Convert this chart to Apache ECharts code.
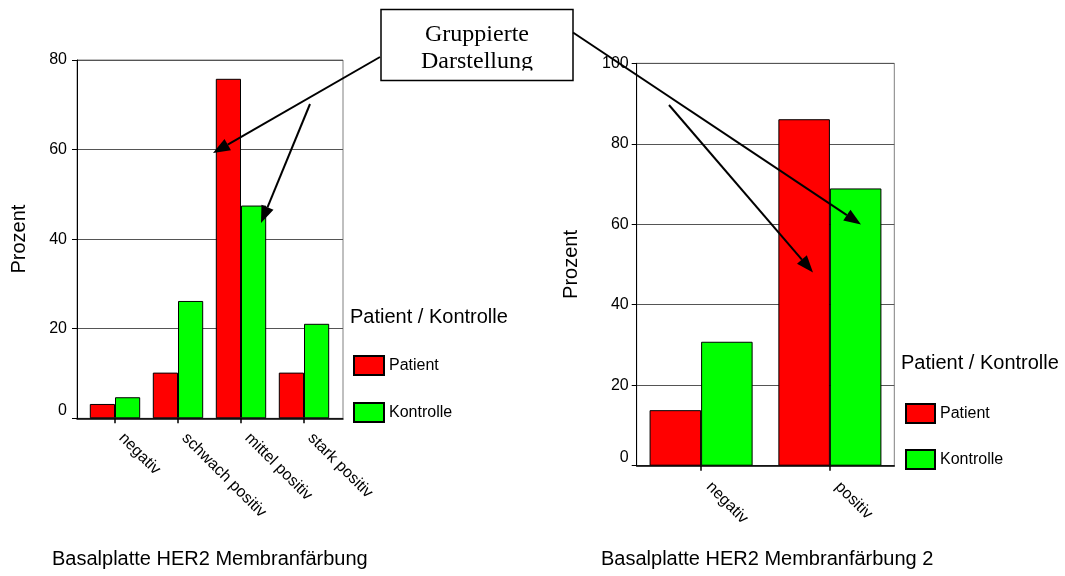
<!DOCTYPE html>
<html>
<head>
<meta charset="utf-8">
<script src="https://cdn.jsdelivr.net/npm/echarts@6/dist/echarts.min.js"></script>
<style>
html,body{margin:0;padding:0;background:#fff;}
#chart{width:1065px;height:576px;}
</style>
</head>
<body>
<div id="chart"></div>
<script>
// ---- data ----
const catsLeft = ['negativ', 'schwach positiv', 'mittel positiv', 'stark positiv'];
const patientLeft = [3.2, 10.2, 75.8, 10.2];
const kontrolleLeft = [4.7, 26.2, 47.5, 21.1];
const catsRight = ['negativ', 'positiv'];
const patientRight = [13.8, 86.1];
const kontrolleRight = [30.8, 68.9];
const seriesNames = ['Patient', 'Kontrolle'];
const legendTitle = 'Patient / Kontrolle';
const titleLeft = 'Basalplatte HER2 Membranfärbung';
const titleRight = 'Basalplatte HER2 Membranfärbung 2';
const yName = 'Prozent';
const calloutLines = ['Gruppierte', 'Darstellung'];

const FONT = 'Liberation Sans, Arial, sans-serif';
const RED = '#ff0000', GREEN = '#00ff00';

function arrow(x1, y1, x2, y2) {
  const len = 17, hw = 6.5;
  const dx = x2 - x1, dy = y2 - y1, d = Math.sqrt(dx * dx + dy * dy);
  const ux = dx / d, uy = dy / d;
  const bx = x2 - ux * len, by = y2 - uy * len;
  return [
    { type: 'line', z: 100, shape: { x1: x1, y1: y1, x2: bx, y2: by }, style: { stroke: '#000', lineWidth: 2 } },
    { type: 'polygon', z: 100, shape: { points: [[x2, y2], [bx - uy * hw, by + ux * hw], [bx + uy * hw, by - ux * hw]] }, style: { fill: '#000' } }
  ];
}

const zeroUp = function (v) { return v === 0 ? '{z|0}' : String(v); };

function yAxisVisible(grid, max, margin, nameGap) {
  return {
    gridIndex: grid, type: 'value', min: 0, max: max, interval: 20,
    name: yName, nameLocation: 'middle', nameGap: nameGap,
    nameTextStyle: { fontSize: 20, color: '#000', fontFamily: FONT },
    axisLine: { show: true, lineStyle: { color: '#000', width: 1 } },
    axisTick: { show: true, length: 5, lineStyle: { color: '#000' } },
    axisLabel: { fontSize: 16, color: '#000', margin: margin, fontFamily: FONT, formatter: zeroUp,
      rich: { z: { fontSize: 16, color: '#000', fontFamily: FONT, padding: [0, 0, 16, 0] } } },
    splitLine: { show: true, lineStyle: { color: '#555', width: 1 } }
  };
}

function barSeries(name, data, xi, yi, color) {
  return {
    type: 'bar', name: name, data: data, xAxisIndex: xi, yAxisIndex: yi,
    barGap: '0%', barCategoryGap: '20%',
    itemStyle: { color: color, borderColor: '#000', borderWidth: 1 },
    emphasis: { disabled: true }, animation: false
  };
}

const chart = echarts.init(document.getElementById('chart'), null, { renderer: 'canvas' });

const graphic = [
  { type: 'rect', z: 100, shape: { x: 381, y: 9.5, width: 192, height: 71 }, style: { fill: '#fff', stroke: 'none' } },
  { type: 'text', z: 101, style: { text: calloutLines[0], x: 477, y: 35, align: 'center', verticalAlign: 'middle', font: '24px "Liberation Serif", "Times New Roman", serif', fill: '#000' } },
  { type: 'text', z: 101, style: { text: calloutLines[1], x: 477, y: 61.5, align: 'center', verticalAlign: 'middle', font: '24px "Liberation Serif", "Times New Roman", serif', fill: '#000' } },
  { type: 'rect', z: 102, shape: { x: 382, y: 70.5, width: 190, height: 9.5 }, style: { fill: '#fff', stroke: 'none' } },
  { type: 'rect', z: 103, shape: { x: 381, y: 9.5, width: 192, height: 71 }, style: { fill: 'none', stroke: '#000', lineWidth: 1.5 } }
].concat(
  arrow(380, 57, 213, 153),
  arrow(310, 104, 261, 223),
  arrow(573, 32.5, 861, 224.5),
  arrow(669, 105, 813, 272.5)
);

const xLabel = { rotate: -45, fontSize: 16, color: '#000', margin: 11, fontFamily: FONT, interval: 0, padding: [0, 0, 0, 9] };

const option = {
  backgroundColor: '#fff',
  animation: false,
  textStyle: { fontFamily: FONT },
  title: [
    { text: legendTitle, left: 350, top: 307, padding: 0, textStyle: { fontSize: 20, fontWeight: 'normal', color: '#000', fontFamily: FONT } },
    { text: legendTitle, left: 901, top: 353, padding: 0, textStyle: { fontSize: 20, fontWeight: 'normal', color: '#000', fontFamily: FONT } },
    { text: titleLeft, left: 52, top: 549, padding: 0, textStyle: { fontSize: 20, fontWeight: 'normal', color: '#000', fontFamily: FONT } },
    { text: titleRight, left: 601, top: 549, padding: 0, textStyle: { fontSize: 20, fontWeight: 'normal', color: '#000', fontFamily: FONT } }
  ],
  legend: [
    { data: seriesNames, orient: 'vertical', left: 348, top: 350, itemWidth: 30, itemHeight: 19, itemGap: 26,
      icon: 'rect', selectedMode: false, textStyle: { fontSize: 16, color: '#000', fontFamily: FONT } },
    { data: seriesNames, orient: 'vertical', left: 900, top: 398, itemWidth: 29, itemHeight: 19, itemGap: 25,
      icon: 'rect', selectedMode: false, textStyle: { fontSize: 16, color: '#000', fontFamily: FONT } }
  ],
  grid: [
    { left: 83.5, top: 60, width: 252, height: 358.3, containLabel: false },
    { left: 77, top: 60, width: 266, height: 358.3, show: true, borderColor: '#808080', borderWidth: 1, backgroundColor: 'transparent', containLabel: false },
    { left: 636.7, top: 63.3, width: 257.6, height: 402.4, show: true, borderColor: '#808080', borderWidth: 1, backgroundColor: 'transparent', containLabel: false }
  ],
  xAxis: [
    { gridIndex: 0, type: 'category', data: catsLeft,
      axisLine: { show: false },
      axisTick: { show: true, alignWithLabel: true, length: 5, lineStyle: { color: '#000', width: 1.5 } },
      axisLabel: xLabel },
    { gridIndex: 1, type: 'value', min: 0, max: 1,
      axisLine: { show: true, lineStyle: { color: '#000', width: 1.5 } },
      axisTick: { show: false }, axisLabel: { show: false }, splitLine: { show: false } },
    { gridIndex: 2, type: 'category', data: catsRight,
      axisLine: { show: true, lineStyle: { color: '#000', width: 1.5 } },
      axisTick: { show: true, alignWithLabel: true, length: 5, lineStyle: { color: '#000', width: 1.5 } },
      axisLabel: Object.assign({}, xLabel, { padding: [0, 0, 0, 11] }) }
  ],
  yAxis: [
    { gridIndex: 0, type: 'value', min: 0, max: 80, show: false, splitLine: { show: false } },
    yAxisVisible(1, 80, 10, 48),
    yAxisVisible(2, 100, 8, 55)
  ],
  series: [
    barSeries(seriesNames[0], patientLeft, 0, 0, RED),
    barSeries(seriesNames[1], kontrolleLeft, 0, 0, GREEN),
    barSeries(seriesNames[0], patientRight, 2, 2, RED),
    barSeries(seriesNames[1], kontrolleRight, 2, 2, GREEN)
  ],
  graphic: graphic
};

chart.setOption(option);
</script>
</body>
</html>
